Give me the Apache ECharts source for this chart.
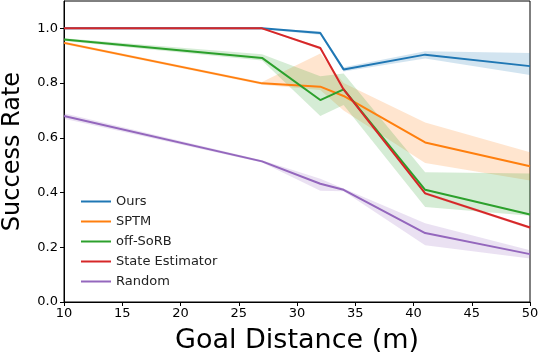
<!DOCTYPE html>
<html>
<head>
<meta charset="utf-8">
<script src="https://cdn.jsdelivr.net/npm/echarts@6/dist/echarts.min.js"></script>
<style>
  html, body { margin: 0; padding: 0; background: #fff; }
  #chart { width: 538px; height: 358px; }
</style>
</head>
<body>
<div id="chart"></div>
<script>
// goal distances (m)
var distances = [10, 27, 32, 34, 41, 50];

var oursMean = [1.0, 1.0, 0.983, 0.85, 0.904, 0.862];
var oursLow = [0.997, 0.997, 0.977, 0.842, 0.89, 0.83];
var oursHigh = [1.0, 1.0, 0.989, 0.858, 0.916, 0.91];

var sptmMean = [0.947, 0.799, 0.787, 0.753, 0.583, 0.496];
var sptmLow = [0.942, 0.794, 0.775, 0.70, 0.508, 0.444];
var sptmHigh = [0.952, 0.804, 0.908, 0.80, 0.656, 0.547];

var sorbMean = [0.959, 0.892, 0.738, 0.777, 0.41, 0.32];
var sorbLow = [0.954, 0.883, 0.68, 0.72, 0.347, 0.315];
var sorbHigh = [0.964, 0.905, 0.825, 0.835, 0.474, 0.47];

var stateMean = [1.0, 1.0, 0.928, 0.777, 0.397, 0.272];
var stateLow = [0.997, 0.997, 0.923, 0.772, 0.392, 0.267];
var stateHigh = [1.0, 1.0, 0.933, 0.782, 0.402, 0.277];

var randMean = [0.68, 0.514, 0.432, 0.41, 0.252, 0.175];
var randLow = [0.67, 0.51, 0.407, 0.405, 0.207, 0.159];
var randHigh = [0.69, 0.518, 0.45, 0.415, 0.288, 0.189];

var yTicks = [0, 0.2, 0.4, 0.6, 0.8, 1.0];

var methods = [
  { name: "Ours", color: "#1f77b4", mean: oursMean, low: oursLow, high: oursHigh },
  { name: "SPTM", color: "#ff7f0e", mean: sptmMean, low: sptmLow, high: sptmHigh },
  { name: "off-SoRB", color: "#2ca02c", mean: sorbMean, low: sorbLow, high: sorbHigh },
  { name: "State Estimator", color: "#d62728", mean: stateMean, low: stateLow, high: stateHigh },
  { name: "Random", color: "#9467bd", mean: randMean, low: randLow, high: randHigh }
];

function pairs(xs, ys) {
  return xs.map(function (x, i) { return [x, ys[i]]; });
}

var series = [];
// shaded bands drawn as one polygon each, through the axis scales
methods.forEach(function (m) {
  series.push({
    type: "custom",
    silent: true,
    z: 1,
    data: [0],
    renderItem: function (params, api) {
      var pts = [];
      distances.forEach(function (d, i) { pts.push(api.coord([d, m.high[i]])); });
      for (var i = distances.length - 1; i >= 0; i--) {
        pts.push(api.coord([distances[i], m.low[i]]));
      }
      return {
        type: "polygon",
        shape: { points: pts },
        style: { fill: m.color, opacity: 0.2 }
      };
    }
  });
});
methods.forEach(function (m) {
  series.push({
    name: m.name,
    type: "line",
    data: pairs(distances, m.mean),
    color: m.color,
    lineStyle: { color: m.color, width: 2 },
    showSymbol: false,
    z: 3
  });
});

var myChart = echarts.init(document.getElementById("chart"));
var option = {
  animation: false,
  textStyle: { fontFamily: "DejaVu Sans" },
  grid: {
    left: 64, right: 8, top: 1, bottom: 56,
    outerBoundsMode: "none",
    show: true, borderColor: "#000", borderWidth: 1
  },
  legend: {
    data: methods.map(function (m) { return m.name; }),
    orient: "vertical",
    left: 76,
    top: 190,
    itemWidth: 30,
    itemHeight: 2,
    itemGap: 7,
    icon: "rect",
    textStyle: { color: "#222", fontSize: 13, fontFamily: "DejaVu Sans" }
  },
  xAxis: {
    type: "value",
    min: 10,
    max: 50,
    interval: 5,
    name: "Goal Distance (m)",
    nameLocation: "middle",
    nameGap: 25,
    nameTextStyle: { color: "#000", fontSize: 27, fontFamily: "DejaVu Sans" },
    splitLine: { show: false },
    axisLine: { onZero: false, lineStyle: { color: "#000", width: 1 } },
    axisTick: { inside: false, length: 4, lineStyle: { color: "#000" } },
    axisLabel: { color: "#000", fontSize: 13, margin: 5 }
  },
  yAxis: {
    type: "value",
    min: 0,
    max: 1.1,
    name: "Success Rate",
    nameLocation: "middle",
    nameGap: 39,
    nameTextStyle: { color: "#000", fontSize: 24, fontFamily: "DejaVu Sans" },
    splitLine: { show: false },
    axisLine: { show: true, onZero: false, lineStyle: { color: "#000", width: 1 } },
    axisTick: { show: true, length: 4, lineStyle: { color: "#000" }, customValues: yTicks },
    axisLabel: {
      color: "#000", fontSize: 13, margin: 6,
      customValues: yTicks,
      formatter: function (v) { return v.toFixed(1); }
    }
  },
  series: series
};
myChart.setOption(option);
</script>
</body>
</html>
